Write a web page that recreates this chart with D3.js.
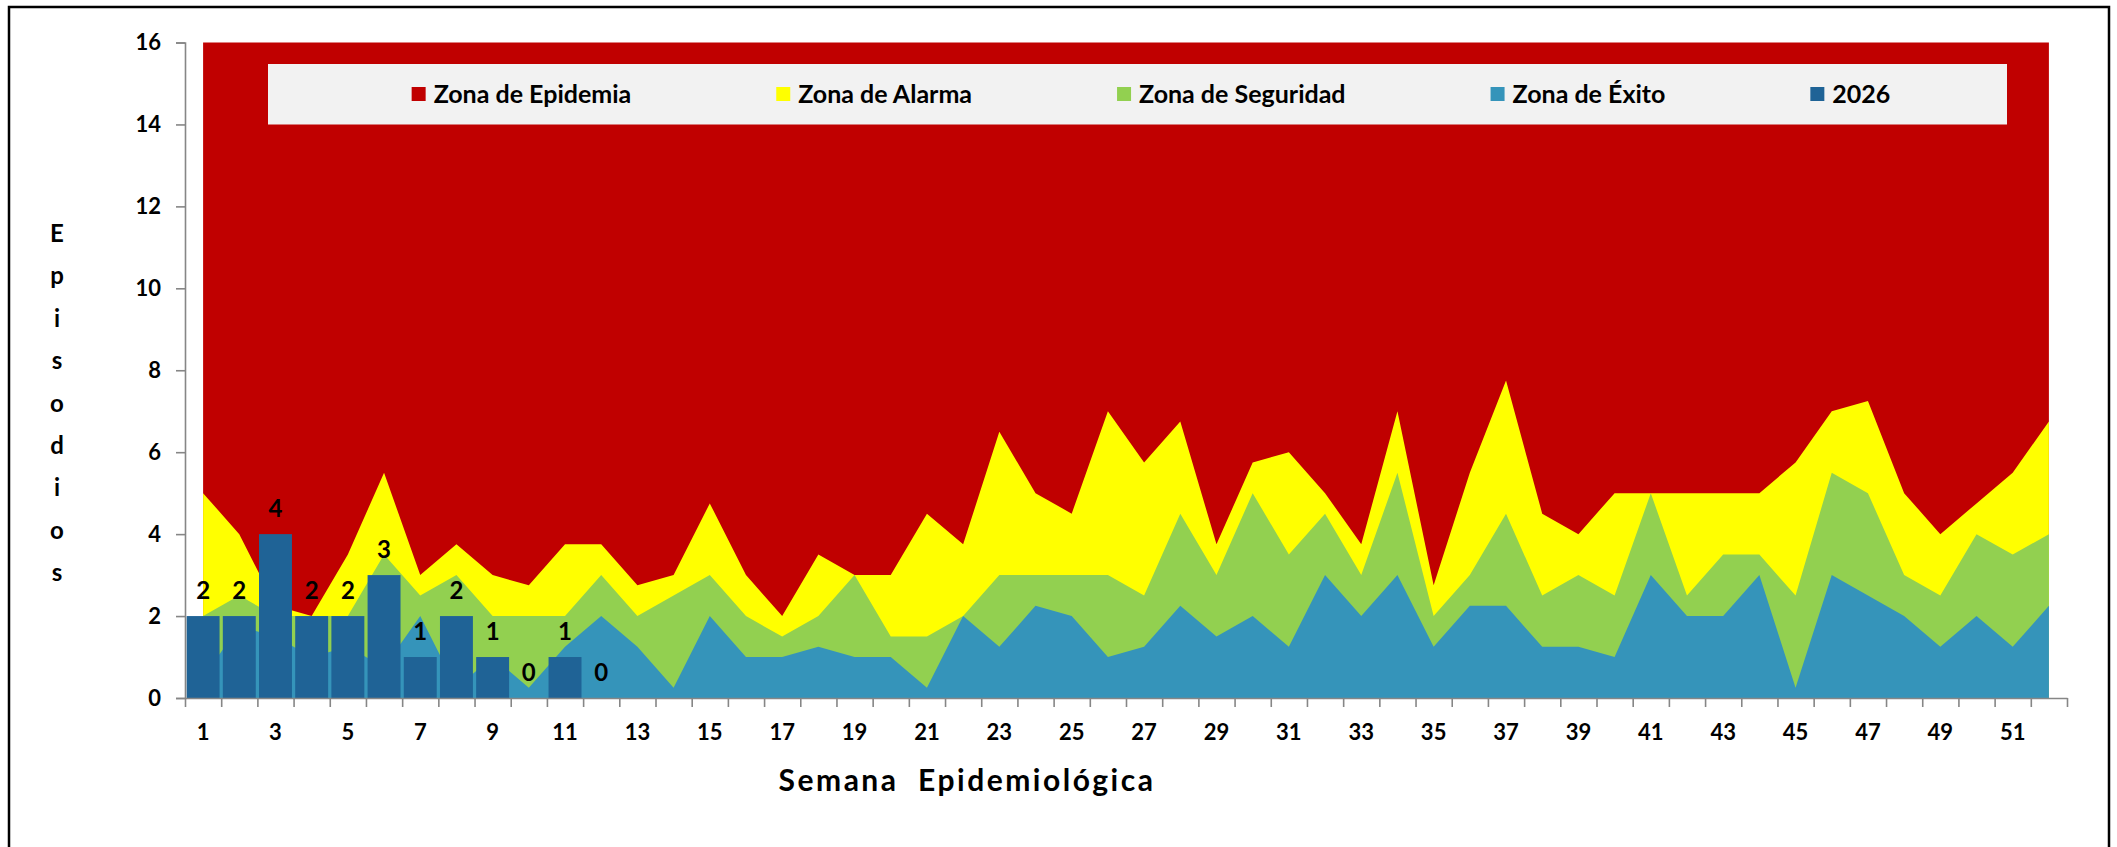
<!DOCTYPE html>
<html>
<head>
<meta charset="utf-8">
<script src="https://cdn.jsdelivr.net/npm/d3@7/dist/d3.min.js"></script>
<style>
  body { margin: 0; background: #ffffff; }
  svg { display: block; }
  text { font-family: Lato, "Open Sans", sans-serif; font-weight: 700; fill: #000; }
</style>
</head>
<body>
<svg id="chart" width="2117" height="847"></svg>
<script>
// Semanas epidemiológicas
const semanas = [1,2,3,4,5,6,7,8,9,10,11,12,13,14,15,16,17,18,19,20,21,22,23,24,25,26,
                 27,28,29,30,31,32,33,34,35,36,37,38,39,40,41,42,43,44,45,46,47,48,49,50,51,52];

// Límite superior de cada zona del canal endémico (episodios)
const zonaExito = [0.5,1.75,1.5,1,1.25,0.75,2,0.25,1,0.25,1.25,2,1.25,0.25,2,1,1,1.25,1,1,0.25,2,1.25,2.25,2,1,
                   1.25,2.25,1.5,2,1.25,3,2,3,1.25,2.25,2.25,1.25,1.25,1,3,2,2,3,0.25,3,2.5,2,1.25,2,1.25,2.25];
const zonaSeguridad = [2,2.5,2,2,2,3.5,2.5,3,2,2,2,3,2,2.5,3,2,1.5,2,3,1.5,1.5,2,3,3,3,3,
                       2.5,4.5,3,5,3.5,4.5,3,5.5,2,3,4.5,2.5,3,2.5,5,2.5,3.5,3.5,2.5,5.5,5,3,2.5,4,3.5,4];
const zonaAlarma = [5,4,2.25,2,3.5,5.5,3,3.75,3,2.75,3.75,3.75,2.75,3,4.75,3,2,3.5,3,3,4.5,3.75,6.5,5,4.5,7,
                    5.75,6.75,3.75,5.75,6,5,3.75,7,2.75,5.5,7.75,4.5,4,5,5,5,5,5,5.75,7,7.25,5,4,4.75,5.5,6.75];
const zonaEpidemia = [16,16,16,16,16,16,16,16,16,16,16,16,16,16,16,16,16,16,16,16,16,16,16,16,16,16,
                      16,16,16,16,16,16,16,16,16,16,16,16,16,16,16,16,16,16,16,16,16,16,16,16,16,16];

// Casos notificados en 2026
const semanas2026 = [1,2,3,4,5,6,7,8,9,10,11,12];
const casos2026 = [2,2,4,2,2,3,1,2,1,0,1,0];

const yTicks = [0,2,4,6,8,10,12,14,16];
const xTickLabels = [1,3,5,7,9,11,13,15,17,19,21,23,25,27,29,31,33,35,37,39,41,43,45,47,49,51];

const series = [
  { name: "Zona de Epidemia", color: "#C00000", values: zonaEpidemia },
  { name: "Zona de Alarma", color: "#FFFF00", values: zonaAlarma },
  { name: "Zona de Seguridad", color: "#92D050", values: zonaSeguridad },
  { name: "Zona de Éxito", color: "#3594BA", values: zonaExito }
];
const colorBarras = "#1F6396";
const axisColor = "#868686";

const svg = d3.select("#chart");

// Marco exterior
svg.append("rect")
  .attr("x", 9).attr("y", 7).attr("width", 2100).attr("height", 900)
  .attr("fill", "none").attr("stroke", "#000").attr("stroke-width", 2.5);

const plotLeft = 185, plotRight = 2067, plotTop = 42.5, plotBottom = 698;

const x = d3.scaleBand().domain(semanas).range([plotLeft, plotRight]).paddingInner(0.09).paddingOuter(0.045);
const y = d3.scaleLinear().domain([0, 16]).range([plotBottom, plotTop]);
const cx = d => x(d) + x.bandwidth() / 2;

// Áreas de las zonas, pintadas de la más alta a la más baja
const area = d3.area()
  .x((d, i) => cx(semanas[i]))
  .y0(y(0))
  .y1(d => y(d));

svg.append("g").selectAll("path")
  .data(series)
  .join("path")
  .attr("d", s => area(s.values))
  .attr("fill", s => s.color);

// Barras 2026
svg.append("g").selectAll("rect")
  .data(casos2026)
  .join("rect")
  .attr("x", (d, i) => x(semanas2026[i]))
  .attr("width", x.bandwidth())
  .attr("y", d => y(d))
  .attr("height", d => y(0) - y(d))
  .attr("fill", colorBarras);

// Etiquetas de valor
svg.append("g").selectAll("text")
  .data(casos2026)
  .join("text")
  .attr("x", (d, i) => cx(semanas2026[i]))
  .attr("y", d => y(d) - 17)
  .attr("text-anchor", "middle")
  .style("font-size", "24px")
  .text(d => d);

// Eje Y
const yAxis = svg.append("g")
  .attr("transform", `translate(${plotLeft},0)`)
  .call(d3.axisLeft(y).tickValues(yTicks).tickSize(9).tickPadding(15));
yAxis.selectAll("text").style("font-size", "22px").style("font-family", "Lato, sans-serif").style("font-weight", 700);

// Eje X: marcas en los límites de cada semana
const xb = d3.scaleLinear().domain([0, semanas.length]).range([plotLeft, plotRight]);
svg.append("g")
  .attr("transform", `translate(0,${plotBottom})`)
  .call(d3.axisBottom(xb).tickValues(d3.range(0, semanas.length + 1)).tickFormat("").tickSize(9).tickSizeOuter(0));

const xLabels = svg.append("g")
  .attr("transform", `translate(0,${plotBottom})`)
  .call(d3.axisBottom(x).tickValues(xTickLabels).tickSize(0).tickPadding(26));
xLabels.select(".domain").remove();
xLabels.selectAll("text").style("font-size", "22px").style("font-family", "Lato, sans-serif").style("font-weight", 700);

svg.selectAll(".domain, .tick line").attr("stroke", axisColor).attr("stroke-width", 1.6);

// Títulos de ejes
svg.append("text")
  .attr("x", 967).attr("y", 791)
  .attr("text-anchor", "middle")
  .style("font-size", "30px")
  .style("letter-spacing", "2.5px")
  .style("white-space", "pre")
  .text("Semana  Epidemiológica");

const yTitle = "Episodios".split("");
svg.append("g").selectAll("text")
  .data(yTitle)
  .join("text")
  .attr("x", 57)
  .attr("y", (d, i) => 242 + i * 42.4)
  .attr("text-anchor", "middle")
  .style("font-size", "24px")
  .text(d => d);

// Leyenda
const legend = svg.append("g");
legend.append("rect")
  .attr("x", 268).attr("y", 64).attr("width", 1739).attr("height", 60.5)
  .attr("fill", "#F2F2F2");

const legendItems = series.map(s => ({ name: s.name, color: s.color }))
  .concat([{ name: "2026", color: colorBarras }]);
const gap = 145, markerSize = 14, markerGap = 8;
const items = legend.selectAll("g.item")
  .data(legendItems)
  .join("g").attr("class", "item");
items.append("rect")
  .attr("width", markerSize).attr("height", markerSize)
  .attr("y", 87)
  .attr("fill", d => d.color);
items.append("text")
  .attr("y", 103)
  .style("font-size", "25px")
  .text(d => d.name);

const widths = [];
items.selectAll("text").each(function () { widths.push(this.getComputedTextLength()); });
const total = d3.sum(widths) + legendItems.length * (markerSize + markerGap) + gap * (legendItems.length - 1);
let pos = 1151 - total / 2;
items.each(function (d, i) {
  const g = d3.select(this);
  g.select("rect").attr("x", pos);
  g.select("text").attr("x", pos + markerSize + markerGap);
  pos += markerSize + markerGap + widths[i] + gap;
});
</script>
</body>
</html>
